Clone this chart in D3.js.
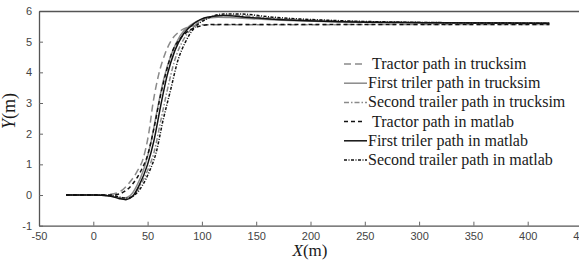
<!DOCTYPE html>
<html lang="en">
  <head>
    <meta charset="UTF-8" />
    <title>Lane change paths</title>
    <script src="https://d3js.org/d3.v7.min.js"></script>
    <style>
      body { margin: 0; background: #fff; }
      .tick text { font-family: "Liberation Sans", Arial, sans-serif; font-size: 11px; fill: #444; }
      .legend text, .label { font-family: "Liberation Serif", "Times New Roman", serif; fill: #1a1a1a; }
    </style>
  </head>
  <body>
    <svg width="579" height="260"></svg>
    <script>
      const svg = d3.select("svg");
      const width = 579;
      const height = 260;

      const xTicks = [-50, 0, 50, 100, 150, 200, 250, 300, 350, 400, 450];
      const yTicks = [-1, 0, 1, 2, 3, 4, 5, 6];

      // x, y points for each path
      const tractorTsX = [-25, 0, 15, 25, 32, 40, 46, 51, 55, 60, 66, 72, 80, 90, 100, 420];
      const tractorTsY = [0, 0, 0.02, 0.12, 0.35, 0.75, 1.2, 2.0, 3.0, 3.9, 4.6, 5.05, 5.35, 5.5, 5.55, 5.56];
      const trailer1TsX = [-25, 0, 15, 22, 28, 34, 40, 47, 53, 59, 65, 72, 80, 90, 100, 115, 130, 160, 220, 300, 420];
      const trailer1TsY = [0, 0, -0.02, -0.08, -0.1, -0.02, 0.3, 0.9, 1.7, 2.8, 3.8, 4.6, 5.2, 5.55, 5.72, 5.8, 5.78, 5.72, 5.65, 5.62, 5.6];
      const trailer2TsX = [-25, 0, 15, 23, 29, 36, 43, 50, 56, 62, 68, 75, 82, 90, 100, 115, 130, 160, 220, 300, 420];
      const trailer2TsY = [0, 0, -0.02, -0.08, -0.12, -0.04, 0.3, 0.8, 1.4, 2.4, 3.4, 4.4, 5.0, 5.4, 5.7, 5.85, 5.86, 5.78, 5.68, 5.63, 5.6];
      const tractorMlX = [-25, 0, 18, 28, 36, 44, 50, 56, 61, 67, 73, 80, 90, 100, 110, 420];
      const tractorMlY = [0, 0, 0, 0.1, 0.35, 0.8, 1.3, 2.2, 3.1, 4.0, 4.7, 5.1, 5.4, 5.52, 5.56, 5.56];
      const trailer1MlX = [-25, 0, 15, 24, 30, 36, 42, 50, 56, 62, 68, 75, 83, 93, 105, 120, 140, 170, 230, 300, 420];
      const trailer1MlY = [0, 0, -0.03, -0.12, -0.15, -0.05, 0.3, 1.0, 1.8, 2.9, 3.9, 4.7, 5.25, 5.6, 5.8, 5.85, 5.8, 5.72, 5.65, 5.62, 5.6];
      const trailer2MlX = [-25, 0, 18, 26, 31, 38, 45, 52, 58, 64, 71, 78, 85, 93, 105, 120, 135, 165, 230, 300, 420];
      const trailer2MlY = [0, 0, -0.02, -0.08, -0.1, 0, 0.3, 0.8, 1.4, 2.4, 3.4, 4.4, 5.0, 5.45, 5.75, 5.9, 5.9, 5.8, 5.68, 5.63, 5.6];

      const series = [
        { name: "Tractor path in trucksim", xs: tractorTsX, ys: tractorTsY, color: "#8a8a8a", dash: "7,4", gap: 6 },
        { name: "First triler path in trucksim", xs: trailer1TsX, ys: trailer1TsY, color: "#8a8a8a", dash: null, gap: 2 },
        { name: "Second trailer path in trucksim", xs: trailer2TsX, ys: trailer2TsY, color: "#8a8a8a", dash: "5,2,1.5,2", gap: 2 },
        { name: "Tractor path in matlab", xs: tractorMlX, ys: tractorMlY, color: "#111", dash: "4,3", gap: 6 },
        { name: "First triler path in matlab", xs: trailer1MlX, ys: trailer1MlY, color: "#111", dash: null, gap: 2 },
        { name: "Second trailer path in matlab", xs: trailer2MlX, ys: trailer2MlY, color: "#111", dash: "3,1.5,1,1.5", gap: 2 }
      ];

      const x = d3.scaleLinear().domain([-50, 450]).range([39, 582]);
      const y = d3.scaleLinear().domain([-1, 6]).range([225.7, 11]);

      const line = d3
        .line()
        .x((d) => x(d[0]))
        .y((d) => y(d[1]))
        .curve(d3.curveMonotoneX);

      // paths
      svg
        .append("g")
        .selectAll("path")
        .data(series)
        .enter()
        .append("path")
        .attr("d", (s) => line(s.xs.map((v, i) => [v, s.ys[i]])))
        .attr("fill", "none")
        .attr("stroke", (s) => s.color)
        .attr("stroke-width", 1.5)
        .attr("stroke-dasharray", (s) => s.dash);

      // axes, ticks pointing inward like matlab
      const plain = (d) => String(d);
      const xAxis = svg
        .append("g")
        .attr("transform", `translate(0,${y(-1)})`)
        .call(d3.axisBottom(x).tickValues(xTicks).tickFormat(plain).tickSize(-4).tickPadding(7).tickSizeOuter(0));
      const yAxis = svg
        .append("g")
        .attr("transform", `translate(${x(-50)},0)`)
        .call(d3.axisLeft(y).tickValues(yTicks).tickFormat(plain).tickSize(-4).tickPadding(7).tickSizeOuter(0));
      const topAxis = svg
        .append("g")
        .attr("transform", `translate(0,${y(6)})`)
        .call(d3.axisTop(x).tickValues(xTicks).tickSize(0).tickFormat("").tickSizeOuter(0));

      [xAxis, yAxis, topAxis].forEach((g) => {
        g.select(".domain").attr("stroke", "#555").attr("stroke-width", 1.3);
        g.selectAll(".tick line").attr("stroke", "#666");
      });

      // legend
      const legend = svg.append("g").attr("class", "legend");
      series.forEach((s, i) => {
        const ly = 64 + i * 19.2;
        legend
          .append("line")
          .attr("x1", 344)
          .attr("x2", s.gap > 2 ? 362 : 367)
          .attr("y1", ly)
          .attr("y2", ly)
          .attr("stroke", s.color)
          .attr("stroke-width", 1.5)
          .attr("stroke-dasharray", s.dash);
        legend
          .append("text")
          .attr("x", s.gap > 2 ? 372 : 368)
          .attr("y", ly + 5)
          .attr("font-size", 16)
          .text(s.name);
      });

      // axis labels
      const xl = svg
        .append("text")
        .attr("class", "label")
        .attr("x", 310)
        .attr("y", 256)
        .attr("text-anchor", "middle")
        .attr("font-size", 17);
      xl.append("tspan").attr("font-style", "italic").text("X");
      xl.append("tspan").text("(m)");

      const yl = svg
        .append("text")
        .attr("class", "label")
        .attr("transform", "translate(15,111) rotate(-90)")
        .attr("text-anchor", "middle")
        .attr("font-size", 18);
      yl.append("tspan").attr("font-style", "italic").text("Y");
      yl.append("tspan").text("(m)");
    </script>
  </body>
</html>
